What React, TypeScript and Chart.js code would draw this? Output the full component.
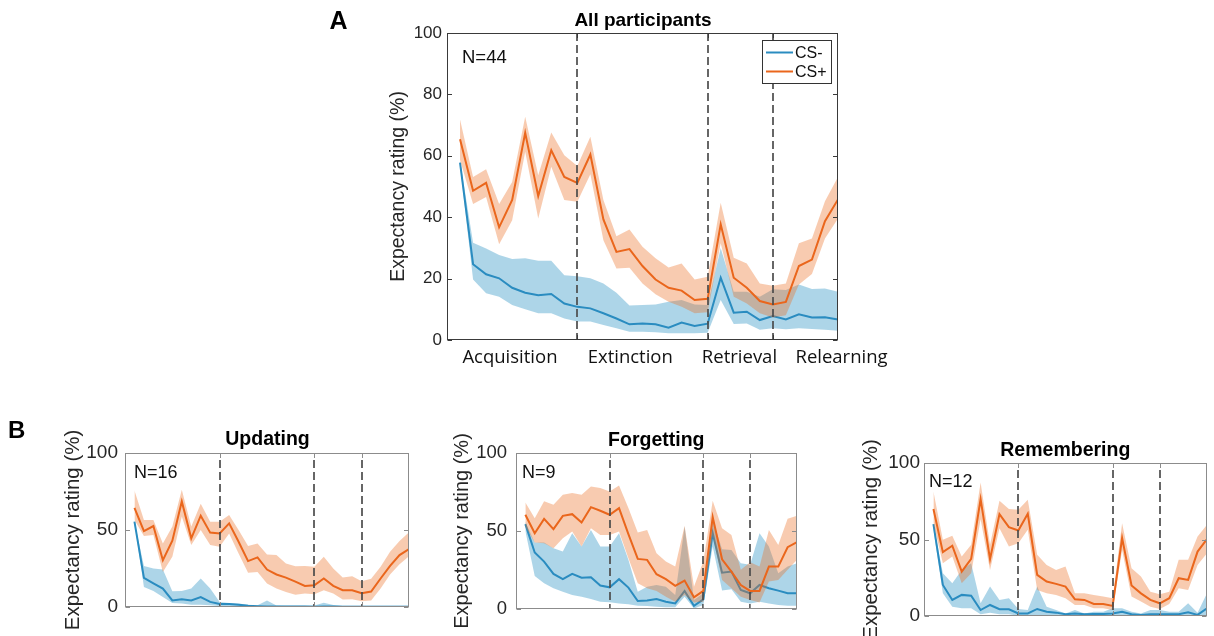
import React, { useEffect, useRef } from 'react';
import { Chart, registerables } from 'chart.js';
Chart.register(...registerables);

// ---------------- DATA ----------------
const trials = [1, 2, 3, 4, 5, 6, 7, 8, 9, 10, 11, 12, 13, 14, 15, 16, 17, 18, 19, 20, 21, 22, 23, 24, 25, 26, 27, 28, 29, 30];
const phaseLabels = ['Acquisition', 'Extinction', 'Retrieval', 'Relearning'];
const phaseBoundaries = [10, 20, 25];
const seriesNames = ['CS-', 'CS+'];
const yTicksA = [0, 20, 40, 60, 80, 100];
const yTicksB = [0, 50, 100];

// Panel A: All participants
const allMinus = [57.8, 24.7, 21.4, 20.1, 17.0, 15.4, 14.6, 15.0, 11.9, 10.8, 10.3, 8.7, 7.0, 5.1, 5.4, 5.1, 4.0, 5.7, 4.6, 5.3, 20.3, 8.9, 9.2, 6.5, 7.8, 6.7, 8.4, 7.3, 7.4, 6.7];
const allMinusUpper = [58.5, 31.7, 29.8, 27.7, 26.4, 26.6, 25.8, 25.8, 21.1, 20.8, 20.1, 18.4, 15.4, 11.2, 11.4, 11.6, 12.5, 13.0, 11.6, 11.4, 30.0, 15.7, 15.7, 14.1, 16.5, 16.3, 18.1, 16.6, 16.8, 15.7];
const allMinusLower = [57.0, 19.7, 15.2, 14.1, 11.4, 10.0, 8.7, 8.7, 7.0, 6.0, 6.0, 4.9, 3.8, 2.7, 2.7, 2.5, 2.2, 2.2, 2.2, 2.4, 13.0, 5.2, 5.4, 3.3, 3.8, 3.5, 3.8, 3.6, 3.3, 3.0];
const allPlus = [65.4, 48.6, 51.2, 36.7, 45.6, 67.5, 46.9, 61.8, 53.1, 51.2, 60.4, 39.3, 28.7, 29.6, 24.1, 19.7, 17.0, 16.1, 13.0, 13.4, 37.7, 20.3, 17.0, 12.7, 11.6, 12.4, 24.1, 26.2, 38.7, 45.8];
const allPlusUpper = [71.8, 53.1, 55.6, 44.3, 51.5, 72.7, 53.7, 67.6, 60.2, 56.7, 66.2, 45.6, 33.8, 36.0, 30.4, 26.6, 23.6, 24.9, 19.7, 20.6, 44.7, 26.8, 24.9, 18.4, 17.7, 18.4, 31.5, 33.1, 45.2, 53.1];
const allPlusLower = [58.6, 44.3, 46.6, 31.2, 39.0, 61.3, 39.6, 56.4, 45.6, 45.0, 54.0, 32.5, 23.3, 23.5, 18.4, 14.9, 12.5, 10.8, 8.7, 9.0, 31.5, 14.1, 11.9, 8.7, 7.3, 8.1, 18.1, 21.5, 33.1, 39.6];

// Panel B: Updating
const updMinus = [55.4, 18.9, 15.4, 12.0, 4.3, 5.0, 4.3, 6.5, 3.3, 2.0, 2.0, 1.5, 0.8, 0.5, 0.3, 0.3, 0.3, 0.3, 0.3, 0.2, 0.4, 0.3, 0.2, 0.2, 0.2, 0.2, 0.2, 0.2, 0.2, 0.2];
const updMinusUpper = [55.4, 26.7, 25.0, 24.3, 10.2, 10.4, 12.0, 18.5, 12.0, 3.3, 2.6, 2.2, 1.5, 1.1, 4.3, 1.0, 0.8, 0.8, 0.8, 1.0, 2.8, 1.3, 0.8, 0.8, 0.8, 0.8, 0.8, 0.8, 0.8, 0.8];
const updMinusLower = [55.0, 13.0, 10.4, 6.5, 2.6, 2.2, 1.5, 1.5, 1.1, 0.7, 0.7, 0.5, 0.2, 0.0, 0.0, 0.0, 0.0, 0.0, 0.0, 0.0, 0.0, 0.0, 0.0, 0.0, 0.0, 0.0, 0.0, 0.0, 0.0, 0.0];
const updPlus = [64.3, 49.3, 52.6, 30.4, 43.0, 68.5, 44.6, 59.3, 48.3, 47.8, 54.3, 42.4, 29.8, 32.2, 24.3, 21.1, 19.1, 16.5, 13.7, 14.1, 18.5, 13.7, 10.9, 10.9, 8.9, 10.0, 18.5, 26.7, 33.7, 37.6];
const updPlusUpper = [75.7, 56.5, 56.5, 41.3, 52.2, 76.1, 52.2, 67.0, 55.4, 55.4, 59.8, 50.0, 39.6, 41.3, 34.1, 33.7, 28.3, 26.5, 26.7, 26.1, 32.6, 25.0, 19.1, 20.0, 16.7, 18.3, 26.1, 35.9, 42.8, 48.5];
const updPlusLower = [56.5, 46.1, 46.7, 22.8, 32.6, 58.7, 40.2, 50.0, 40.2, 39.1, 47.8, 34.8, 22.2, 22.8, 15.2, 12.0, 9.8, 8.0, 8.7, 8.3, 10.9, 8.7, 4.8, 5.0, 3.7, 4.3, 12.0, 21.1, 27.8, 33.0];

// Panel B: Forgetting
const forMinus = [54.4, 36.2, 30.4, 22.5, 19.1, 22.5, 20.1, 20.3, 15.0, 13.9, 19.1, 13.7, 5.1, 5.4, 6.4, 4.7, 3.6, 11.6, 2.1, 6.2, 48.6, 23.3, 24.0, 12.2, 10.1, 15.4, 13.3, 11.8, 10.1, 10.1];
const forMinusUpper = [56.0, 42.6, 42.6, 39.0, 36.8, 48.6, 40.0, 50.7, 40.0, 40.0, 48.6, 31.5, 11.1, 14.3, 15.4, 14.3, 9.0, 52.9, 5.8, 10.1, 57.2, 38.3, 37.9, 29.3, 28.3, 48.6, 40.0, 22.9, 27.2, 29.3];
const forMinusLower = [50.0, 21.2, 16.5, 13.3, 11.1, 9.0, 7.9, 6.4, 4.7, 4.3, 3.6, 3.0, 2.1, 1.9, 1.5, 1.1, 1.1, 7.9, 0.4, 2.6, 40.0, 11.8, 12.6, 4.7, 3.6, 4.7, 3.6, 2.6, 2.1, 2.1];
const forPlus = [60.4, 48.6, 57.8, 51.2, 59.7, 60.8, 55.5, 65.3, 63.0, 60.4, 64.7, 48.0, 32.1, 31.5, 22.3, 19.1, 14.8, 18.2, 7.5, 11.6, 58.9, 31.9, 24.0, 15.4, 11.6, 11.6, 27.2, 27.2, 39.6, 42.8];
const forPlusUpper = [68.3, 58.2, 69.0, 66.8, 73.2, 74.3, 73.2, 78.6, 77.5, 75.4, 79.2, 64.7, 49.0, 50.7, 35.8, 30.4, 27.2, 53.3, 14.3, 30.4, 69.4, 51.8, 47.5, 25.1, 30.0, 27.2, 50.7, 41.1, 57.8, 59.7];
const forPlusLower = [52.9, 42.6, 42.2, 39.0, 45.4, 49.7, 40.0, 51.8, 47.5, 47.5, 49.7, 32.5, 16.5, 13.3, 11.6, 7.9, 4.7, 9.0, 4.1, 4.7, 47.5, 18.6, 13.3, 7.9, 5.8, 4.1, 17.6, 18.6, 25.1, 31.5];

// Panel B: Remembering
const remMinus = [60.0, 20.3, 10.5, 13.8, 13.3, 3.9, 7.2, 4.4, 4.4, 1.7, 1.7, 4.6, 2.8, 2.2, 1.1, 1.7, 1.1, 1.3, 1.3, 1.7, 2.8, 1.1, 0.7, 1.1, 1.1, 1.1, 1.1, 2.4, 0.7, 5.0];
const remMinusUpper = [60.0, 27.9, 21.4, 30.1, 34.5, 8.3, 19.2, 10.5, 11.6, 4.6, 3.9, 19.2, 6.1, 3.9, 1.7, 3.9, 1.7, 2.8, 2.8, 5.0, 5.0, 2.8, 1.7, 3.9, 3.9, 2.8, 2.8, 8.3, 2.2, 14.8];
const remMinusLower = [56.3, 14.8, 6.1, 5.0, 5.0, 1.1, 2.2, 1.1, 1.1, 0.2, 0.2, 0.7, 0.7, 0.2, 0.2, 0.2, 0.2, 0.2, 0.2, 0.2, 0.2, 0.2, 0.2, 0.2, 0.2, 0.2, 0.2, 0.2, 0.2, 0.2];
const remPlus = [69.9, 41.7, 45.9, 29.0, 37.3, 76.4, 37.1, 66.6, 58.1, 55.9, 66.8, 26.9, 22.5, 21.0, 19.2, 10.9, 10.5, 7.9, 7.9, 6.6, 50.9, 19.9, 14.8, 10.5, 8.3, 11.6, 24.7, 23.6, 42.1, 50.2];
const remPlusUpper = [81.4, 49.8, 52.4, 38.9, 46.5, 87.3, 46.5, 75.3, 69.9, 69.4, 76.0, 40.0, 33.4, 30.1, 32.3, 14.8, 14.8, 13.8, 12.7, 11.6, 60.7, 31.2, 25.8, 15.9, 14.2, 15.9, 36.7, 36.7, 52.0, 59.6];
const remPlusLower = [60.7, 34.5, 38.9, 21.4, 27.9, 63.3, 30.1, 57.4, 45.4, 47.6, 56.3, 17.0, 14.8, 13.8, 11.6, 7.2, 7.2, 5.0, 5.0, 3.9, 43.2, 12.7, 9.4, 6.1, 4.6, 7.9, 18.1, 17.0, 33.4, 41.0];

// ---------------- STYLE ----------------
const SANS = '"Liberation Sans", Arial, Helvetica, sans-serif';
const CALIBRI = '"Open Sans", "Liberation Sans", sans-serif';
const TEXT = '#262626';
const BLUE = 'rgb(42,140,192)';
const BLUE_FILL = 'rgba(40,145,195,0.38)';
const ORANGE = 'rgb(234,102,28)';
const ORANGE_FILL = 'rgba(235,110,35,0.36)';
const phaseLabelAt = [4.83, 14.06, 22.44, 30.27];

type Rect = { left: number; top: number; right: number; bottom: number };
type PanelCfg = {
  key: string;
  canvas: { left: number; top: number; width: number; height: number };
  plot: Rect;
  title: string;
  titleX: number;
  titleY: number;
  titleSize: number;
  nLabel: string;
  nX: number;
  nY: number;
  nSize: number;
  letter?: string;
  letterX?: number;
  letterY?: number;
  letterSize?: number;
  yTicks: number[];
  tickSize: number;
  tickPad: number;
  yTitleSize: number;
  yTitleX: number;
  frameColor: string;
  dashStart: number;
  phaseText: boolean;
  legend: boolean;
  minus: number[];
  minusUpper: number[];
  minusLower: number[];
  plus: number[];
  plusUpper: number[];
  plusLower: number[];
};

const panels: PanelCfg[] = [
  {
    key: 'A', canvas: { left: 320, top: 0, width: 580, height: 375 },
    plot: { left: 447, top: 33, right: 838, bottom: 340 },
    title: 'All participants', titleX: 643, titleY: 26, titleSize: 19,
    nLabel: 'N=44', nX: 462, nY: 63, nSize: 18.5,
    letter: 'A', letterX: 329.5, letterY: 28.5, letterSize: 25,
    yTicks: yTicksA, tickSize: 17, tickPad: 5, yTitleSize: 19.5, yTitleX: 398.5,
    frameColor: '#3a3a3a', dashStart: 0, phaseText: true, legend: true,
    minus: allMinus, minusUpper: allMinusUpper, minusLower: allMinusLower,
    plus: allPlus, plusUpper: allPlusUpper, plusLower: allPlusLower,
  },
  {
    key: 'U', canvas: { left: 0, top: 400, width: 420, height: 236 },
    plot: { left: 125, top: 453, right: 409, bottom: 607 },
    title: 'Updating', titleX: 267.5, titleY: 445, titleSize: 19.5,
    nLabel: 'N=16', nX: 134, nY: 478, nSize: 18,
    letter: 'B', letterX: 8, letterY: 437.5, letterSize: 24,
    yTicks: yTicksB, tickSize: 19, tickPad: 7, yTitleSize: 20.5, yTitleX: 73.5,
    frameColor: '#8c8c8c', dashStart: 7, phaseText: false, legend: false,
    minus: updMinus, minusUpper: updMinusUpper, minusLower: updMinusLower,
    plus: updPlus, plusUpper: updPlusUpper, plusLower: updPlusLower,
  },
  {
    key: 'F', canvas: { left: 430, top: 410, width: 380, height: 226 },
    plot: { left: 516, top: 453, right: 797, bottom: 609 },
    title: 'Forgetting', titleX: 656.3, titleY: 446, titleSize: 19.5,
    nLabel: 'N=9', nX: 522, nY: 478, nSize: 18,
    yTicks: yTicksB, tickSize: 18.5, tickPad: 9, yTitleSize: 20, yTitleX: 462,
    frameColor: '#8c8c8c', dashStart: 7, phaseText: false, legend: false,
    minus: forMinus, minusUpper: forMinusUpper, minusLower: forMinusLower,
    plus: forPlus, plusUpper: forPlusUpper, plusLower: forPlusLower,
  },
  {
    key: 'R', canvas: { left: 850, top: 420, width: 364, height: 216 },
    plot: { left: 924, top: 463, right: 1207, bottom: 616 },
    title: 'Remembering', titleX: 1065.3, titleY: 455.5, titleSize: 19.5,
    nLabel: 'N=12', nX: 929, nY: 486.5, nSize: 18,
    yTicks: yTicksB, tickSize: 19, tickPad: 4, yTitleSize: 20.5, yTitleX: 871.5,
    frameColor: '#8c8c8c', dashStart: 7, phaseText: false, legend: false,
    minus: remMinus, minusUpper: remMinusUpper, minusLower: remMinusLower,
    plus: remPlus, plusUpper: remPlusUpper, plusLower: remPlusLower,
  },
];

function pts(values: number[]) {
  return values.map((v, i) => ({ x: trials[i], y: v }));
}

function makeOverlay(cfg: PanelCfg) {
  const ox = cfg.canvas.left;
  const oy = cfg.canvas.top;
  return {
    id: 'overlay' + cfg.key,
    afterDatasetsDraw(chart: any) {
      const { ctx, chartArea: ca, scales } = chart;
      const x = scales.x;
      const y = scales.y;
      ctx.save();
      // phase boundaries
      ctx.strokeStyle = 'rgba(75,75,75,0.85)';
      ctx.lineWidth = 2;
      ctx.setLineDash([8, 4]);
      phaseBoundaries.forEach((b) => {
        const px = Math.round(x.getPixelForValue(b));
        ctx.beginPath();
        ctx.moveTo(px, ca.top + cfg.dashStart);
        ctx.lineTo(px, ca.bottom);
        ctx.stroke();
      });
      ctx.setLineDash([]);
      // frame
      ctx.strokeStyle = cfg.frameColor;
      ctx.lineWidth = 1;
      const l = Math.round(ca.left) + 0.5;
      const r = Math.round(ca.right) - 0.5;
      const t = Math.round(ca.top) + 0.5;
      const bt = Math.round(ca.bottom) - 0.5;
      ctx.strokeRect(l, t, r - l, bt - t);
      // inward ticks
      ctx.beginPath();
      cfg.yTicks.forEach((v) => {
        const py = Math.round(y.getPixelForValue(v)) + 0.5;
        ctx.moveTo(l, py); ctx.lineTo(l + 4.5, py);
        ctx.moveTo(r, py); ctx.lineTo(r - 4.5, py);
      });
      phaseBoundaries.forEach((b) => {
        const px = Math.round(x.getPixelForValue(b)) + 0.5;
        ctx.moveTo(px, bt); ctx.lineTo(px, bt - 4.5);
        ctx.moveTo(px, t); ctx.lineTo(px, t + 4.5);
      });
      ctx.stroke();

      // title
      ctx.fillStyle = '#000';
      ctx.font = `bold ${cfg.titleSize}px ${SANS}`;
      ctx.textAlign = 'center';
      ctx.textBaseline = 'alphabetic';
      ctx.fillText(cfg.title, cfg.titleX - ox, cfg.titleY - oy);
      // panel letter
      if (cfg.letter) {
        ctx.font = `bold ${cfg.letterSize}px ${SANS}`;
        ctx.textAlign = 'left';
        ctx.fillText(cfg.letter, (cfg.letterX as number) - ox, (cfg.letterY as number) - oy);
      }
      // N label
      ctx.fillStyle = '#111';
      ctx.font = `${cfg.nSize}px ${SANS}`;
      ctx.textAlign = 'left';
      ctx.fillText(cfg.nLabel, cfg.nX - ox, cfg.nY - oy);

      // phase labels
      if (cfg.phaseText) {
        ctx.font = `18.5px ${CALIBRI}`;
        ctx.textAlign = 'center';
        ctx.fillStyle = '#111';
        phaseLabels.forEach((p, i) => {
          ctx.fillText(p, x.getPixelForValue(phaseLabelAt[i]), 363 - oy);
        });
      }
      // legend
      if (cfg.legend) {
        const bx = 762 - ox, by = 40 - oy, bw = 69, bh = 43;
        ctx.fillStyle = '#fff';
        ctx.fillRect(bx, by, bw, bh);
        ctx.strokeStyle = '#333';
        ctx.lineWidth = 1;
        ctx.strokeRect(bx + 0.5, by + 0.5, bw, bh);
        const cols = [BLUE, ORANGE];
        const ys = [52.5, 71.5];
        ctx.font = `16px ${SANS}`;
        ctx.textAlign = 'left';
        ctx.textBaseline = 'middle';
        seriesNames.forEach((n, i) => {
          ctx.strokeStyle = cols[i];
          ctx.lineWidth = 2;
          ctx.beginPath();
          ctx.moveTo(766 - ox, ys[i] - oy);
          ctx.lineTo(793 - ox, ys[i] - oy);
          ctx.stroke();
          ctx.fillStyle = '#111';
          ctx.fillText(n, 795 - ox, ys[i] - oy + 1);
        });
      }
      ctx.restore();
    },
  };
}

function Panel({ cfg }: { cfg: PanelCfg }) {
  const ref = useRef<HTMLCanvasElement | null>(null);
  useEffect(() => {
    if (!ref.current) return;
    const c = cfg.canvas;
    const band = (data: number[], color: string, order: number, fill: any) => ({
      data: pts(data), borderWidth: 0, borderColor: 'rgba(0,0,0,0)', backgroundColor: color,
      pointRadius: 0, fill, order, tension: 0,
    });
    const line = (label: string, data: number[], color: string, order: number) => ({
      label, data: pts(data), borderWidth: 2, borderColor: color, backgroundColor: color,
      pointRadius: 0, fill: false, order, tension: 0,
    });
    const chart = new Chart(ref.current, {
      type: 'line',
      data: {
        datasets: [
          band(cfg.minusLower, BLUE_FILL, 5, false),
          band(cfg.minusUpper, BLUE_FILL, 4, '-1'),
          line(seriesNames[0], cfg.minus, BLUE, 3),
          band(cfg.plusLower, ORANGE_FILL, 2, false),
          band(cfg.plusUpper, ORANGE_FILL, 1, '-1'),
          line(seriesNames[1], cfg.plus, ORANGE, 0),
        ] as any,
      },
      options: {
        responsive: false,
        animation: false,
        events: [],
        layout: {
          padding: {
            left: 0,
            top: cfg.plot.top - c.top,
            right: c.left + c.width - cfg.plot.right,
            bottom: c.top + c.height - cfg.plot.bottom,
          },
        },
        plugins: { legend: { display: false }, tooltip: { enabled: false }, title: { display: false } },
        scales: {
          x: { type: 'linear', min: 0, max: 30, display: false },
          y: {
            type: 'linear', min: 0, max: 100,
            afterBuildTicks: (s: any) => { s.ticks = cfg.yTicks.map((v) => ({ value: v })); },
            afterFit: (s: any) => { s.width = cfg.plot.left - c.left; },
            grid: { display: false, drawTicks: false },
            border: { display: false },
            ticks: { font: { family: SANS, size: cfg.tickSize }, color: TEXT, padding: cfg.tickPad },
            title: {
              display: true, text: 'Expectancy rating (%)', color: TEXT,
              font: { family: SANS, size: cfg.yTitleSize, lineHeight: 1.2 },
              padding: { top: cfg.yTitleX - c.left - cfg.yTitleSize * 0.6, bottom: 0 },
            },
          },
        },
      } as any,
      plugins: [makeOverlay(cfg)],
    });
    return () => chart.destroy();
  }, [cfg]);
  return (
    <canvas
      ref={ref}
      width={cfg.canvas.width}
      height={cfg.canvas.height}
      style={{ position: 'absolute', left: cfg.canvas.left, top: cfg.canvas.top, width: cfg.canvas.width, height: cfg.canvas.height }}
    />
  );
}

export default function App() {
  return (
    <div style={{ position: 'fixed', left: 0, top: 0, width: 1214, height: 636, background: '#fff', overflow: 'hidden' }}>
      {panels.map((p) => (
        <Panel key={p.key} cfg={p} />
      ))}
    </div>
  );
}
